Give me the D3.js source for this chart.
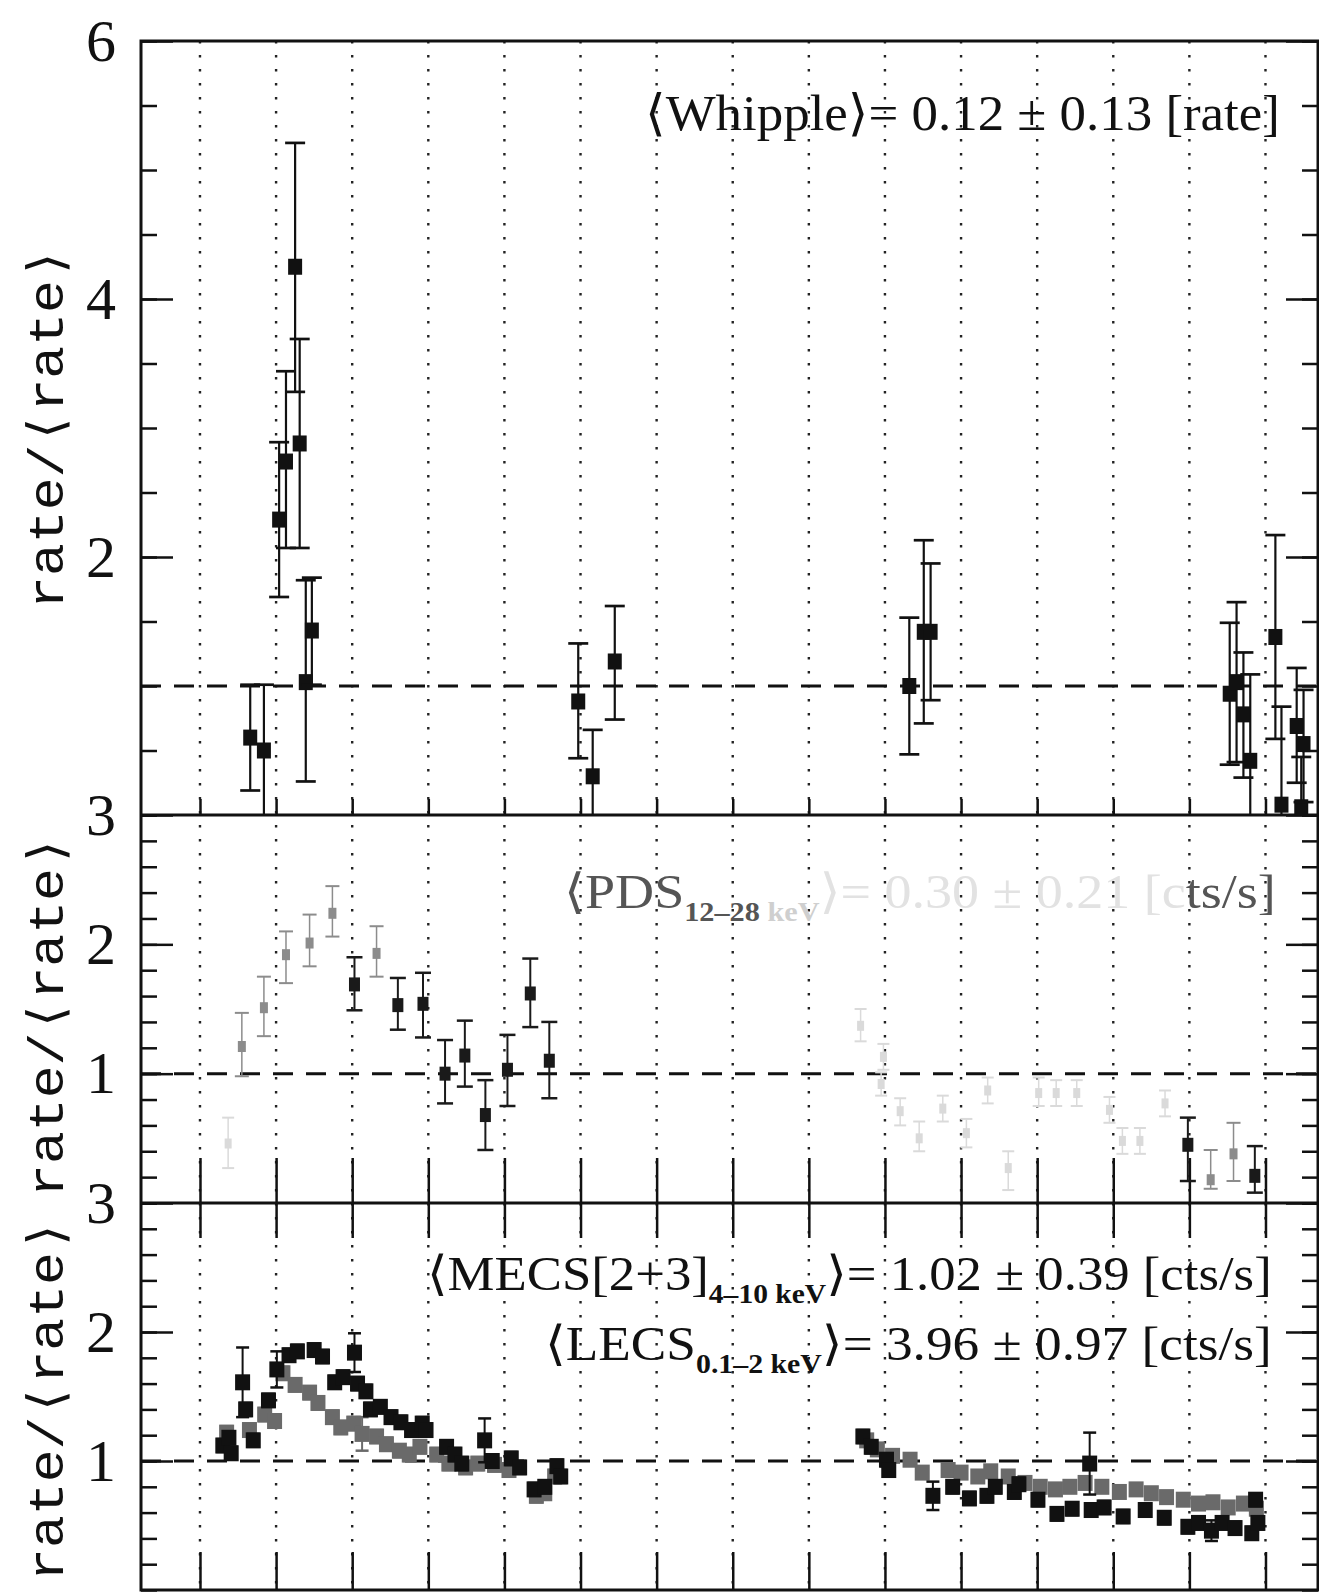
<!DOCTYPE html>
<html><head><meta charset="utf-8">
<script src="https://cdn.jsdelivr.net/npm/d3@7"></script>
<style>html,body{margin:0;padding:0;background:#fff;} svg{display:block;}</style>
</head><body>
<svg id="chart" width="1319" height="1594"></svg>
<script>
// ---------------- DATA ----------------
// day grid (x ticks / dotted grid lines; tick labels are cut off in the original)
const dayGrid = [0,1,2,3,4,5,6,7,8,9,10,11,12,13,14];
// y tick labels per panel
const whippleTicks = [2,4,6];
const pdsTicks = [1,2,3];
const xrayTicks = [1,2,3];
// mean levels
const meanLevel = [1];

// Whipple: [day, rate/<rate>, low, high]
const whipple = [
  [0.66,0.60,0.19,1.01],[0.84,0.50,0.00,1.01],[1.04,2.29,1.69,2.89],[1.13,2.74,2.07,3.44],
  [1.25,4.25,3.28,5.21],[1.31,2.88,2.07,3.69],[1.39,1.03,0.26,1.82],[1.47,1.43,1.01,1.84],
  [4.97,0.88,0.44,1.33],[5.16,0.30,0.00,0.66],[5.45,1.19,0.74,1.62],
  [9.32,1.00,0.47,1.53],[9.51,1.42,0.71,2.13],[9.60,1.42,0.89,1.95],
  [13.53,0.94,0.39,1.49],[13.62,1.03,0.41,1.65],[13.71,0.78,0.29,1.26],[13.80,0.42,0.00,1.09],
  [14.13,1.38,0.59,2.17],[14.21,0.08,0.00,0.84],[14.41,0.69,0.25,1.14],[14.47,0.06,0.00,0.45],
  [14.50,0.55,0.10,0.97]
];

// PDS 12-28 keV: [day, rate/<rate>, low, high] (scan partly faded)
const pdsDark = [
  [2.03,1.69,1.49,1.90],[2.60,1.53,1.34,1.74],[2.93,1.54,1.28,1.78],[3.22,1.00,0.77,1.26],
  [3.48,1.14,0.90,1.41],[3.75,0.68,0.41,0.95],[4.04,1.03,0.75,1.30],[4.34,1.62,1.36,1.89],
  [4.59,1.10,0.81,1.40],[12.98,0.45,0.17,0.66],[13.86,0.21,0.08,0.44]
];
const pdsGray = [
  [0.55,1.21,0.98,1.47],[0.84,1.51,1.29,1.75],[1.13,1.92,1.70,2.10],[1.44,2.01,1.83,2.23],
  [1.74,2.24,2.06,2.45],[2.32,1.93,1.75,2.14],[13.28,0.18,0.11,0.41],[13.58,0.38,0.17,0.62]
];
const pdsFaint = [
  [0.37,0.46,0.27,0.66],[8.68,1.37,1.25,1.50],[8.98,1.13,1.03,1.23],[8.95,0.92,0.83,1.01],
  [9.20,0.71,0.60,0.81],[9.45,0.50,0.40,0.63],[9.76,0.73,0.63,0.83],[10.07,0.54,0.43,0.65],
  [10.35,0.87,0.77,0.97],[10.62,0.27,0.10,0.40],[11.02,0.85,0.75,0.97],[11.25,0.85,0.75,0.95],
  [11.52,0.85,0.75,0.95],[11.95,0.72,0.62,0.82],[12.12,0.48,0.38,0.58],[12.35,0.48,0.38,0.58],
  [12.68,0.77,0.67,0.87]
];

// MECS[2+3] 4-10 keV: [day, rate/<rate>, error]
const mecs = [
  [0.30,1.12,0.05],[0.38,1.18,0.05],[0.41,1.06,0.05],[0.56,1.61,0.27],[0.60,1.40,0.05],
  [0.70,1.16,0.05],[0.90,1.47,0.05],[1.01,1.71,0.14],[1.17,1.82,0.05],[1.28,1.85,0.05],
  [1.50,1.86,0.05],[1.61,1.81,0.05],[1.77,1.61,0.05],[1.88,1.65,0.05],[2.03,1.84,0.15],
  [2.07,1.60,0.05],[2.18,1.54,0.05],[2.24,1.40,0.05],[2.37,1.42,0.05],[2.51,1.34,0.05],
  [2.64,1.30,0.05],[2.78,1.24,0.05],[2.92,1.29,0.05],[2.97,1.24,0.05],[3.24,1.11,0.05],
  [3.35,1.05,0.05],[3.44,0.98,0.05],[3.74,1.16,0.17],[3.84,1.00,0.05],[4.09,1.02,0.05],
  [4.20,0.95,0.05],[4.39,0.78,0.05],[4.53,0.80,0.05],[4.69,0.96,0.05],[4.74,0.88,0.05],
  [8.71,1.19,0.05],[8.82,1.11,0.05],[9.02,1.01,0.05],[9.05,0.93,0.05],[9.63,0.73,0.11],
  [9.89,0.80,0.05],[10.11,0.71,0.05],[10.34,0.73,0.05],[10.45,0.80,0.05],[10.70,0.76,0.05],
  [10.76,0.82,0.05],[11.01,0.70,0.05],[11.26,0.59,0.05],[11.46,0.63,0.05],[11.69,0.98,0.24],
  [11.71,0.62,0.05],[11.88,0.64,0.05],[12.13,0.57,0.05],[12.42,0.62,0.05],[12.67,0.56,0.05],
  [12.98,0.49,0.05],[13.12,0.52,0.05],[13.29,0.46,0.08],[13.43,0.52,0.05],[13.60,0.48,0.05],
  [13.82,0.44,0.05],[13.90,0.52,0.05],[13.87,0.70,0.05]
];
// LECS 0.1-2 keV: [day, rate/<rate>, error]
const lecs = [
  [0.35,1.22,0.05],[0.65,1.24,0.05],[0.85,1.36,0.05],[0.98,1.31,0.05],[1.09,1.68,0.05],
  [1.25,1.59,0.05],[1.44,1.53,0.05],[1.55,1.45,0.05],[1.74,1.34,0.05],[1.85,1.26,0.05],
  [2.02,1.29,0.05],[2.13,1.21,0.13],[2.32,1.19,0.05],[2.45,1.13,0.05],[2.62,1.08,0.05],
  [2.75,1.05,0.05],[2.89,1.11,0.05],[3.11,1.05,0.05],[3.27,0.98,0.05],[3.49,0.95,0.05],
  [3.65,0.98,0.05],[3.87,0.97,0.05],[4.06,0.93,0.05],[4.42,0.73,0.05],[4.53,0.75,0.05],
  [4.66,0.88,0.05],
  [8.76,1.16,0.04],[8.90,1.09,0.04],[9.10,1.04,0.04],[9.33,1.01,0.04],[9.49,0.91,0.04],
  [9.83,0.93,0.04],[10.00,0.91,0.04],[10.22,0.88,0.04],[10.39,0.92,0.04],[10.62,0.88,0.04],
  [10.84,0.83,0.04],[11.04,0.80,0.04],[11.24,0.78,0.04],[11.43,0.80,0.04],[11.63,0.83,0.04],
  [11.85,0.80,0.04],[12.08,0.76,0.04],[12.30,0.78,0.04],[12.50,0.75,0.04],[12.70,0.72,0.04],
  [12.92,0.70,0.04],[13.12,0.67,0.04],[13.31,0.68,0.04],[13.51,0.64,0.04],[13.71,0.67,0.04],
  [13.88,0.63,0.04]
];

// ---------------- LAYOUT ----------------
const SERIF = "'Liberation Serif','DejaVu Serif',serif";
const MONO = "'Liberation Mono','DejaVu Sans Mono',monospace";
const svg = d3.select('#chart');
const X0 = 141, X1 = 1318;
const x = d3.scaleLinear().domain([-0.775, 14.69]).range([X0, X1]);

const panels = [
  {top:41,   bottom:815,  max:6, major:whippleTicks, step:0.5, tTop:0,  tBot:16, title:428},
  {top:815,  bottom:1203, max:3, major:pdsTicks,     step:0.2, tTop:0,  tBot:45, title:1016},
  {top:1203, bottom:1590, max:3, major:xrayTicks,    step:0.2, tTop:35, tBot:38, title:1400}
];
panels.forEach((p,i) => {
  p.y = d3.scaleLinear().domain([0,p.max]).range([p.bottom,p.top]);
  p.minor = d3.range(0, Math.round(p.max/p.step)+1).map(k => +(k*p.step).toFixed(2));
  p.clip = 'clip'+i;
  svg.append('clipPath').attr('id',p.clip).append('rect')
    .attr('x',X0).attr('y',p.top).attr('width',X1-X0).attr('height',p.bottom-p.top);
});

// dotted vertical grid
svg.append('g').selectAll('line').data(dayGrid).join('line')
  .attr('x1',d=>x(d)).attr('x2',d=>x(d)).attr('y1',panels[0].top).attr('y2',panels[2].bottom)
  .attr('stroke','#222').attr('stroke-width',2.4).attr('stroke-dasharray','2.5 11.5');

function styleAxis(g){
  g.select('.domain').remove();
  g.selectAll('.tick line').attr('stroke','#111').attr('stroke-width',2.5);
  g.selectAll('.tick text').attr('fill','#111').style('font-family',SERIF).style('font-size','60px');
}

panels.forEach(p => {
  // left axis minor / major
  svg.append('g').attr('transform',`translate(${X0},0)`)
    .call(d3.axisLeft(p.y).tickValues(p.minor).tickSize(-16).tickFormat('')).call(styleAxis);
  svg.append('g').attr('transform',`translate(${X0},0)`)
    .call(d3.axisLeft(p.y).tickValues(p.major).tickSize(-32).tickPadding(25).tickFormat(d3.format('d')))
    .call(styleAxis);
  // right axis
  svg.append('g').attr('transform',`translate(${X1},0)`)
    .call(d3.axisRight(p.y).tickValues(p.minor).tickSize(-16).tickFormat('')).call(styleAxis);
  svg.append('g').attr('transform',`translate(${X1},0)`)
    .call(d3.axisRight(p.y).tickValues(p.major).tickSize(-32).tickFormat('')).call(styleAxis);
  // x ticks
  svg.append('g').attr('transform',`translate(0,${p.bottom})`)
    .call(d3.axisBottom(x).tickValues(dayGrid).tickSize(-p.tBot).tickFormat('')).call(styleAxis);
  if (p.tTop > 0) {
    svg.append('g').attr('transform',`translate(0,${p.top})`)
      .call(d3.axisTop(x).tickValues(dayGrid).tickSize(-p.tTop).tickFormat('')).call(styleAxis);
  }
  // mean dashed line
  svg.append('g').selectAll('line').data(meanLevel).join('line')
    .attr('x1',X0).attr('x2',X1).attr('y1',d=>p.y(d)).attr('y2',d=>p.y(d))
    .attr('stroke','#111').attr('stroke-width',3).attr('stroke-dasharray','20 13');
  // y title
  svg.append('text')
    .attr('transform',`translate(63,${p.title}) rotate(-90)`)
    .attr('text-anchor','middle').attr('textLength',362).attr('lengthAdjust','spacingAndGlyphs')
    .style('font-family',MONO).style('font-size','50px').attr('fill','#111')
    .text('rate/\u27E8rate\u27E9');
});

// frame
svg.append('rect').attr('x',X0).attr('y',panels[0].top).attr('width',X1-X0)
  .attr('height',panels[2].bottom-panels[0].top).attr('fill','none').attr('stroke','#111').attr('stroke-width',3);
[panels[1].top, panels[2].top].forEach(yy => {
  svg.append('line').attr('x1',X0).attr('x2',X1).attr('y1',yy).attr('y2',yy)
    .attr('stroke','#111').attr('stroke-width',3);
});

// ---------------- DATA MARKS ----------------
function drawSeries(p, rows, o) {
  const g = svg.append('g').attr('clip-path',`url(#${p.clip})`);
  const pt = g.selectAll('g').data(rows).join('g');
  pt.append('line').attr('x1',d=>x(d[0])).attr('x2',d=>x(d[0]))
    .attr('y1',d=>p.y(d[2])).attr('y2',d=>p.y(d[3]))
    .attr('stroke',o.color).attr('stroke-width',o.lw);
  pt.append('line').attr('x1',d=>x(d[0])-o.cap/2).attr('x2',d=>x(d[0])+o.cap/2)
    .attr('y1',d=>p.y(d[3])).attr('y2',d=>p.y(d[3]))
    .attr('stroke',o.color).attr('stroke-width',o.lw+0.5);
  pt.filter(d=>d[2]>0).append('line').attr('x1',d=>x(d[0])-o.cap/2).attr('x2',d=>x(d[0])+o.cap/2)
    .attr('y1',d=>p.y(d[2])).attr('y2',d=>p.y(d[2]))
    .attr('stroke',o.color).attr('stroke-width',o.lw+0.5);
  pt.append('rect').attr('x',d=>x(d[0])-o.w/2).attr('y',d=>p.y(d[1])-o.h/2)
    .attr('width',o.w).attr('height',o.h).attr('fill',o.color);
}
const sym = rows => rows.map(d => [d[0], d[1], d[1]-d[2], d[1]+d[2]]);

drawSeries(panels[0], whipple, {color:'#111', lw:2.2, cap:20, w:14, h:16});
drawSeries(panels[1], pdsFaint, {color:'#dadada', lw:1.5, cap:12, w:7, h:10});
drawSeries(panels[1], pdsGray, {color:'#8c8c8c', lw:1.5, cap:14, w:8, h:11});
drawSeries(panels[1], pdsDark, {color:'#1a1a1a', lw:2, cap:16, w:11, h:14});
drawSeries(panels[2], sym(lecs), {color:'#6a6a6a', lw:2, cap:13, w:15, h:16});
drawSeries(panels[2], sym(mecs), {color:'#111', lw:2, cap:13, w:15, h:16});

// ---------------- ANNOTATIONS ----------------
function anno(parts, x0, x1, yb, fs) {
  const t = svg.append('text').attr('x',0).attr('y',yb)
    .style('font-family',SERIF).style('font-size',fs+'px');
  let shifted = false;
  parts.forEach(pt => {
    const ts = t.append('tspan').text(pt.t).attr('fill', pt.fill || '#111');
    if (pt.sub) {
      ts.style('font-size',(fs*0.56)+'px').style('font-weight','bold');
      if (!shifted) { ts.attr('dy', 0.28*fs); shifted = true; }
    } else if (shifted) { ts.attr('dy', -0.28*fs); shifted = false; }
  });
  const bb = t.node().getBBox();
  const s = (x1-x0)/bb.width;
  t.attr('transform',`translate(${x0},0) scale(${s},1) translate(${-bb.x},0)`);
}
anno([{t:'\u27E8Whipple\u27E9= 0.12 \u00B1 0.13 [rate]'}], 645, 1280, 130, 50);
anno([{t:'\u27E8PDS', fill:'#555'}, {t:'12\u201328', sub:true, fill:'#555'}, {t:' keV', sub:true, fill:'#cfcfcf'},
      {t:'\u27E9= 0.30 \u00B1 0.21 [c', fill:'#e2e2e2'}, {t:'ts/s]', fill:'#555'}], 564, 1276, 908, 48);
anno([{t:'\u27E8MECS[2+3]'}, {t:'4\u201310 keV', sub:true}, {t:'\u27E9= 1.02 \u00B1 0.39 [cts/s]'}], 427, 1272, 1290, 48);
anno([{t:'\u27E8LECS'}, {t:'0.1\u20132 keV', sub:true}, {t:'\u27E9= 3.96 \u00B1 0.97 [cts/s]'}], 545, 1272, 1360, 48);
</script>
</body></html>
